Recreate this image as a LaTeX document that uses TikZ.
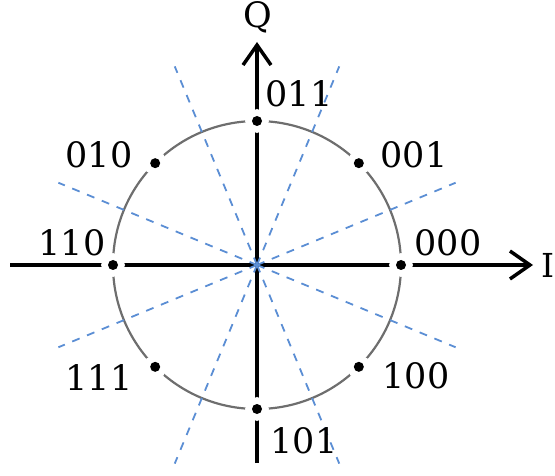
\documentclass[tikz,border=0pt]{standalone}
\usepackage{fontspec}
\setmainfont{DejaVu Serif}
\usetikzlibrary{arrows.meta,calc}
\definecolor{dashblue}{HTML}{5B8ED4}
\definecolor{circgray}{HTML}{6E6E6E}
\begin{document}
\begin{tikzpicture}[x=1pt,y=-1pt,
  axis/.style={line width=3.5pt, -{Straight Barb[length=20pt,width=28pt]}},
  ring/.style={draw=circgray, line width=2.2pt},
  bdash/.style={draw=dashblue, line width=1.8pt, dash pattern=on 8pt off 8pt},
  dot/.style={circle, fill=black, inner sep=0pt, minimum size=10pt, preaction={draw=white, line width=13pt}},
  lbl/.style={font=\fontsize{35}{35}\selectfont, inner sep=0pt}
]
\useasboundingbox (0,0) rectangle (555,476);
\coordinate (O) at (257,265);
\coordinate (xs) at (10,265);
\coordinate (xe) at (533,265);
\coordinate (ys) at (257,463);
\coordinate (ye) at (257,42);
\draw[axis] (xs) -- (xe);
\draw[axis] (ys) -- (ye);
\draw[ring] (O) circle[radius=144];
\foreach \a in {22.5,67.5,112.5,157.5,202.5,247.5,292.5,337.5}
  \draw[bdash] (O) -- ++(\a:215);
\node[dot] (d000) at ($(O)+(0:144)$) {};
\node[dot] (d001) at ($(O)+(-45:144)$) {};
\node[dot] (d011) at ($(O)+(-90:144)$) {};
\node[dot] (d010) at ($(O)+(-135:144)$) {};
\node[dot] (d110) at ($(O)+(180:144)$) {};
\node[dot] (d111) at ($(O)+(135:144)$) {};
\node[dot] (d101) at ($(O)+(90:144)$) {};
\node[dot] (d100) at ($(O)+(45:144)$) {};
\node[lbl] (l000) at (448,243) {000};
\node[lbl] (l001) at (414,155) {001};
\node[lbl] (l011) at (299,94) {011};
\node[lbl] (l010) at (99,155) {010};
\node[lbl] (l110) at (72,243) {110};
\node[lbl] (l111) at (99,378) {111};
\node[lbl] (l101) at (304,441) {101};
\node[lbl] (l100) at (416,376) {100};
\node[lbl, font=\fontsize{35}{35}\selectfont] (q) at (258,17) {Q};
\node[lbl, font=\fontsize{33}{33}\selectfont, anchor=west] (i) at (541,265) {I};
\end{tikzpicture}
\end{document}
